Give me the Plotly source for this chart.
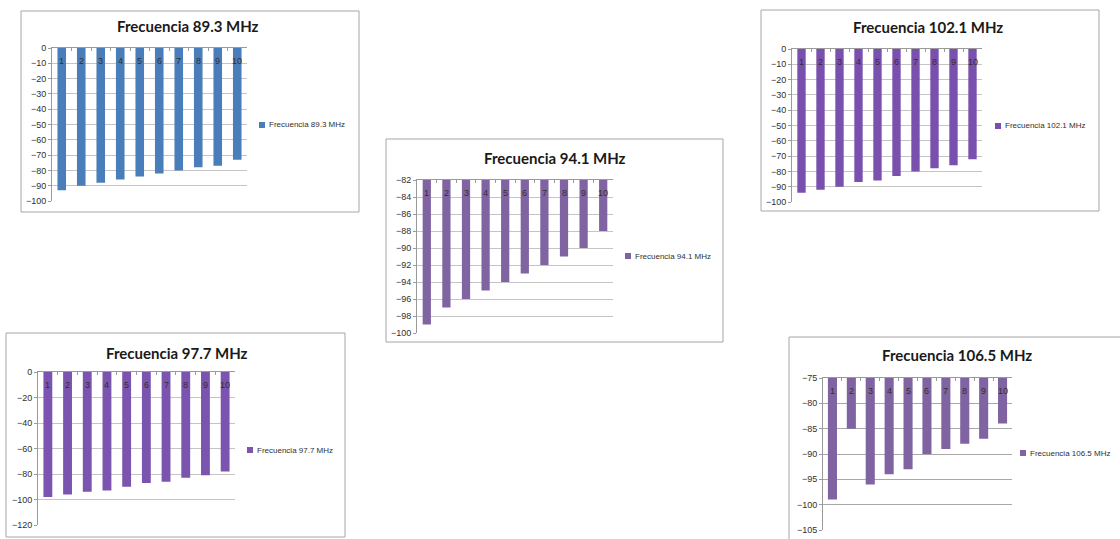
import plotly.graph_objects as go

W, H = 1120, 539

categorias = [str(i) for i in range(1, 11)]

titulos = [
    "Frecuencia 89.3 MHz",
    "Frecuencia 94.1 MHz",
    "Frecuencia 102.1 MHz",
    "Frecuencia 97.7 MHz",
    "Frecuencia 106.5 MHz",
]

f893 = [-93, -90, -88, -86, -84, -82, -80, -78, -77, -73]
f941 = [-99, -97, -96, -95, -94, -93, -92, -91, -90, -88]
f1021 = [-94, -92, -90, -87, -86, -83, -80, -78, -76, -72]
f977 = [-98, -96, -94, -93, -90, -87, -86, -83, -81, -78]
f1065 = [-99, -85, -96, -94, -93, -90, -89, -88, -87, -84]

series = [f893, f941, f1021, f977, f1065]

rangos_y = [(-100, 0), (-100, -82), (-100, 0), (-120, 0), (-105, -75)]
pasos_y = [10, 2, 10, 20, 5]

# Panel geometry in pixels: chart frame, plot area, title centre, legend key
paneles = [
    dict(caja=(21, 11, 359, 212), area=(52, 48, 247, 201), titulo=(188, 26),
         leyenda=(262, 125), color="#4a7ebb", fondo="white", ancho=0.44,
         rejilla="#c4c4c4"),
    dict(caja=(386, 139, 723, 342), area=(417, 180, 613, 333), titulo=(555, 158),
         leyenda=(628, 256), color="#8064a2", fondo="white", ancho=0.42,
         rejilla="#c4c4c4"),
    dict(caja=(761, 10, 1099, 211), area=(792, 49, 982, 202), titulo=(928, 27),
         leyenda=(998, 126), color="#7a50ae", fondo="white", ancho=0.44,
         rejilla="#c4c4c4"),
    dict(caja=(6, 333, 345, 537), area=(38, 372, 235, 525), titulo=(177, 353),
         leyenda=(250, 450), color="#7b54af", fondo="white", ancho=0.45,
         rejilla="#c4c4c4"),
    dict(caja=(789, 337, 1130, 550), area=(823, 378, 1012, 530), titulo=(957, 355),
         leyenda=(1023, 453), color="#8064a2", fondo="#ece8f0", ancho=0.48,
         rejilla="#a8a8a8"),
]


def px(x):
    return x / W


def py(y):
    return 1 - y / H


fig = go.Figure()
shapes = []
annotations = []
texto = "#303030"

for i, (p, vals, titulo, (lo, hi), paso) in enumerate(
        zip(paneles, series, titulos, rangos_y, pasos_y), start=1):
    sx = "" if i == 1 else str(i)
    xa, ya = "x" + sx, "y" + sx
    x0, y0, x1, y1 = p["area"]

    fig.add_trace(go.Bar(
        x=categorias, y=vals, xaxis=xa, yaxis=ya, name=titulo,
        marker=dict(color=p["color"], line=dict(width=0)),
        width=p["ancho"], showlegend=False,
    ))

    fig.layout["xaxis" + sx] = dict(
        domain=[px(x0), px(x1)], anchor=ya, type="category",
        range=[-0.5, 9.5], side="top", showline=True, linecolor="#9a9a9a",
        linewidth=1, ticks="inside", tickson="boundaries", ticklen=3,
        tickcolor="#9a9a9a", showticklabels=False, showgrid=False,
        automargin=False, fixedrange=True,
    )
    fig.layout["yaxis" + sx] = dict(
        domain=[py(y1), py(y0)], anchor=xa, range=[lo, hi], dtick=paso,
        tick0=hi, showline=True, linecolor="#9a9a9a", linewidth=1,
        ticks="outside", ticklen=3, tickcolor="#9a9a9a",
        gridcolor=p["rejilla"], gridwidth=1, zeroline=False,
        tickfont=dict(size=9, color=texto, family="Liberation Sans"),
        automargin=False, fixedrange=True,
    )

    # plot-area fill
    if p["fondo"] != "white":
        shapes.append(dict(type="rect", xref=xa + " domain", yref=ya + " domain",
                           x0=0, x1=1, y0=0, y1=1, fillcolor=p["fondo"],
                           line=dict(width=0), layer="below"))

    # chart frame
    bx0, by0, bx1, by1 = p["caja"]
    shapes.append(dict(type="rect", xref="paper", yref="paper",
                       x0=px(bx0), x1=px(bx1), y0=py(by1), y1=py(by0),
                       line=dict(color="#a6a6a6", width=1), layer="below",
                       fillcolor="white"))

    # category labels just under the axis line (positioned by category index)
    alto = y1 - y0
    for k, c in enumerate(categorias):
        annotations.append(dict(
            x=k, y=1 - 13 / alto, xref=xa, yref=ya + " domain",
            text=c, showarrow=False, xanchor="center", yanchor="middle",
            font=dict(size=9, color=texto, family="Liberation Sans"),
        ))

    # title
    tx, ty = p["titulo"]
    annotations.append(dict(
        x=px(tx), y=py(ty), xref="paper", yref="paper",
        text="<b>" + titulo + "</b>", showarrow=False,
        xanchor="center", yanchor="middle",
        font=dict(size=15, color="#1a1a1a", family="Lato"),
    ))

    # legend key and entry
    lx, ly = p["leyenda"]
    shapes.append(dict(type="rect", xref="paper", yref="paper",
                       x0=px(lx - 3), x1=px(lx + 3), y0=py(ly + 3), y1=py(ly - 3),
                       fillcolor=p["color"], line=dict(width=0)))
    annotations.append(dict(
        x=px(lx + 5), y=py(ly), xref="paper", yref="paper",
        text=titulo, showarrow=False, xanchor="left", yanchor="middle",
        font=dict(size=8, color=texto, family="Liberation Sans"),
    ))

fig.update_layout(
    width=W, height=H,
    margin=dict(l=0, r=0, t=0, b=0, autoexpand=False),
    paper_bgcolor="white", plot_bgcolor="rgba(0,0,0,0)",
    shapes=shapes, annotations=annotations,
    showlegend=False,
)

fig.write_html("out.html")
